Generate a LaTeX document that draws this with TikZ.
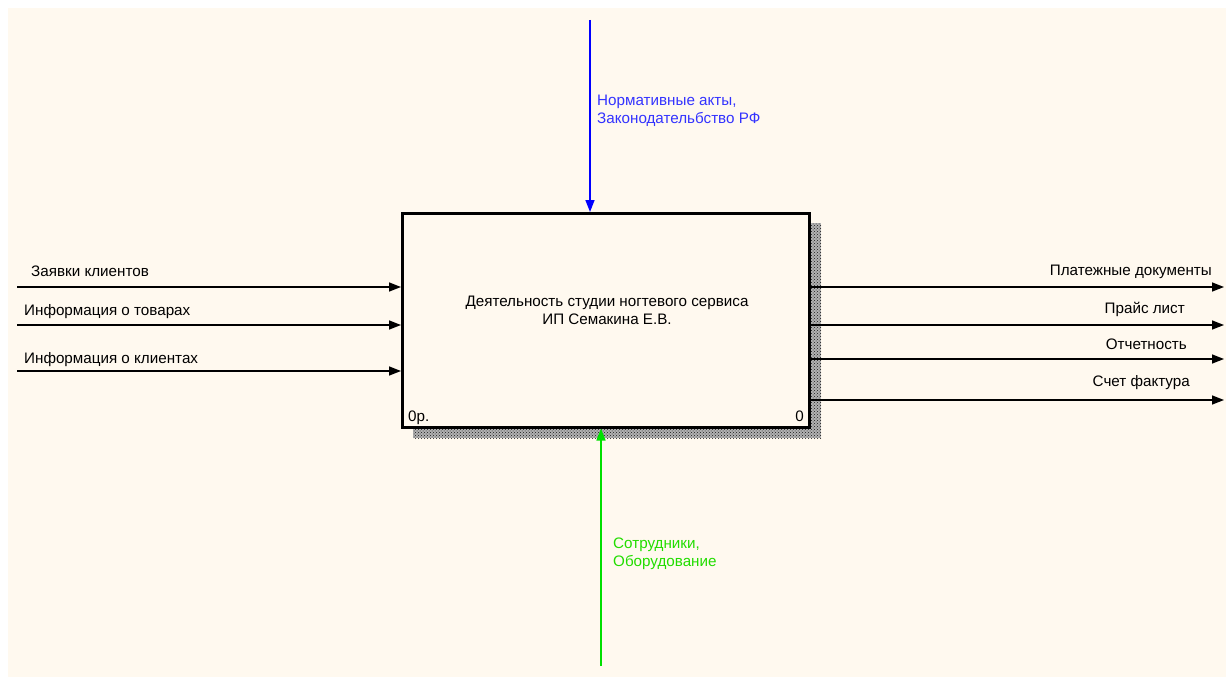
\documentclass[tikz,border=0pt]{standalone}
\usepackage{fontspec}
\setmainfont{Liberation Sans}
\usetikzlibrary{arrows.meta,patterns}
\definecolor{bgcream}{HTML}{FFF9EF}
\definecolor{ctrlblue}{HTML}{0000FF}
\definecolor{ctrltext}{HTML}{3333FF}
\definecolor{mechgreen}{HTML}{00E000}
\definecolor{mechtext}{HTML}{22DD00}
\tikzset{
  x=1pt, y=-1pt,
  lbl/.style={inner sep=0pt, font=\fontsize{15.2}{17.5}\selectfont},
  flow/.style={line width=1.5pt, -{Triangle[length=12pt,width=9pt]}},
  funcbox/.style={draw, line width=2.5pt, fill=bgcream, inner sep=0pt, minimum width=407pt, minimum height=214pt, anchor=north west},
}
\begin{document}
\begin{tikzpicture}
\useasboundingbox (0,0) rectangle (1226,677);
\fill[white] (0,0) rectangle (1226,677);
\fill[bgcream] (8,8) rectangle (1226,677);
% shadow
\fill[black!30] (413,223) rectangle (821,438);
\fill[pattern=crosshatch dots, pattern color=black!90] (413,223) rectangle (821,438);
\node[funcbox] (box) at (401,212) {};
\node[lbl, anchor=base, align=center] (title) at (607,324) {Деятельность студии ногтевого сервиса\\ИП Семакина Е.В.};
\node[lbl, anchor=base west] (num1) at (408,421) {0р.};
\node[lbl, anchor=base east] (num2) at (804,421) {0};
% inputs
\coordinate (i1) at (17,287);
\coordinate (i2) at (17,325);
\coordinate (i3) at (17,371);
\draw[flow] (i1) -- (i1 -| box.west);
\draw[flow] (i2) -- (i2 -| box.west);
\draw[flow] (i3) -- (i3 -| box.west);
\node[lbl, anchor=base west] (li1) at (31,276) {Заявки клиентов};
\node[lbl, anchor=base west] (li2) at (24,315) {Информация о товарах};
\node[lbl, anchor=base west] (li3) at (24,363) {Информация о клиентах};
% outputs
\coordinate (o1) at (1224,287);
\coordinate (o2) at (1224,325);
\coordinate (o3) at (1224,359);
\coordinate (o4) at (1224,400);
\draw[flow] (o1 -| box.east) -- (o1);
\draw[flow] (o2 -| box.east) -- (o2);
\draw[flow] (o3 -| box.east) -- (o3);
\draw[flow] (o4 -| box.east) -- (o4);
\node[lbl, anchor=base east] (lo1) at (1212,275) {Платежные документы};
\node[lbl, anchor=base east] (lo2) at (1185,313) {Прайс лист};
\node[lbl, anchor=base east] (lo3) at (1187,349) {Отчетность};
\node[lbl, anchor=base east] (lo4) at (1190,386) {Счет фактура};
% control
\coordinate (c1) at (590,20);
\draw[flow, ctrlblue] (c1) -- (c1 |- box.north);
\node[lbl, anchor=base west, align=left, text=ctrltext] (lc1) at (597,123) {Нормативные акты,\\Законодательбство РФ};
% mechanism
\coordinate (m1) at (601,666);
\draw[flow, mechgreen] (m1) -- (m1 |- box.south);
\node[lbl, anchor=base west, align=left, text=mechtext] (lm1) at (613,566) {Сотрудники,\\Оборудование};
\end{tikzpicture}
\end{document}
